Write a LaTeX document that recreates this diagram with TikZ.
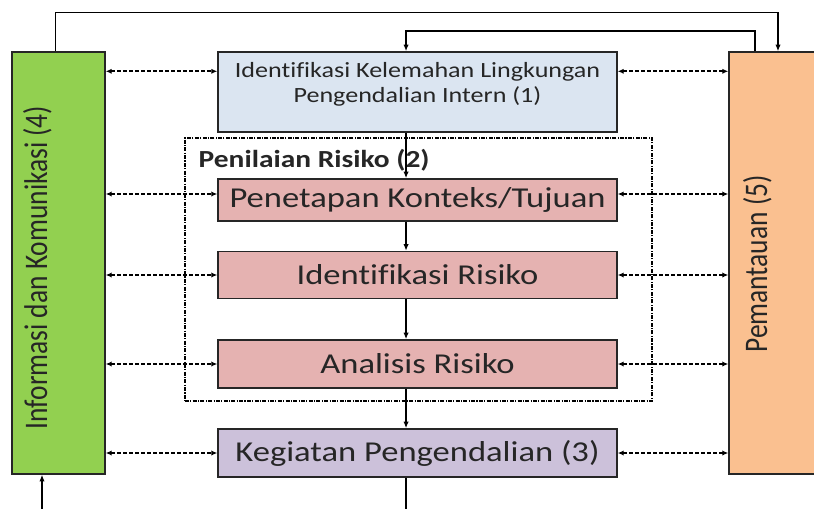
\documentclass[tikz,border=0pt]{standalone}
\usepackage{fontspec}
\setmainfont{Carlito}[FakeStretch=1.2, Ligatures=NoCommon]
\newfontfamily\sidefont{Carlito}[FakeStretch=0.833, Ligatures=NoCommon]
\usepackage{tikz}
\usetikzlibrary{arrows.meta}
\definecolor{infogreen}{RGB}{146,208,80}
\definecolor{pantauorange}{RGB}{250,192,144}
\definecolor{lingkblue}{RGB}{219,229,241}
\definecolor{risikopink}{RGB}{229,178,177}
\definecolor{kegiatanpurple}{RGB}{204,193,218}
\definecolor{textgray}{RGB}{38,38,38}

\begin{document}
\begin{tikzpicture}[x=0.75pt, y=-0.75pt,
	box/.style={draw=black!85, line width=1.1pt, text=textgray, inner sep=0pt},
	stepbox/.style={box, minimum width=299.25pt, font=\fontsize{21.6}{26}\selectfont},
	flow/.style={-{Latex[length=5pt,width=4pt]}, line width=0.9pt},
	link/.style={{Latex[length=4.5pt,width=4pt]}-{Latex[length=4.5pt,width=4pt]}, dash pattern=on 3pt off 1.5pt, line width=1.3pt}]
	\clip (0,0) rectangle (814,508);
	\fill[white] (0,0) rectangle (814,508);
	\node[box, fill=infogreen, minimum width=69.75pt, minimum height=316.5pt] (info) at (58.5,263) {};
	\node[box, fill=pantauorange, minimum width=75pt, minimum height=316.5pt] (pantau) at (779,263) {};
	\node[rotate=90, anchor=base, text=textgray, font=\sidefont\fontsize{24.7}{30}\selectfont] (infotext) at (47,267.5) {Informasi dan Komunikasi (4)};
	\node[rotate=90, anchor=base, text=textgray, font=\sidefont\fontsize{24.7}{30}\selectfont] (pantautext) at (767,264) {Pemantauan (5)};
	\node[draw, line width=0.8pt, dash pattern=on 3pt off 1pt on 0.8pt off 1pt, minimum width=350.25pt, minimum height=197.25pt, inner sep=0pt] (penilaian) at (418.5,269.5) {};
	\node[anchor=base west, text=textgray, font=\bfseries\fontsize{18.4}{22}\selectfont] (penilaiantitle) at (194,167) {Penilaian Risiko (2)};
	\node[box, fill=lingkblue, minimum width=299.25pt, minimum height=60pt] (lingk) at (417.5,92) {};
	\node[align=center, text=textgray, font=\fontsize{16.3}{18.75}\selectfont] (lingktext) at (417.5,84.5) {Identifikasi Kelemahan Lingkungan\\Pengendalian Intern (1)};
	\node[stepbox, fill=risikopink, minimum height=31.5pt] (pen) at (417.5,200) {Penetapan Konteks/Tujuan};
	\node[stepbox, fill=risikopink, minimum height=35.25pt] (ident) at (417.5,275) {Identifikasi Risiko};
	\node[stepbox, fill=risikopink, minimum height=36pt] (anal) at (417.5,364) {Analisis Risiko};
	\node[stepbox, fill=kegiatanpurple, minimum height=36pt] (keg) at (417.5,453) {Kegiatan Pengendalian (3)};
	\draw[flow] ([xshift=-8.6pt]lingk.south) -- ([xshift=-8.6pt]pen.north);
	\draw[flow] ([xshift=-8.6pt]pen.south) -- ([xshift=-8.6pt]ident.north);
	\draw[flow] ([xshift=-8.6pt]ident.south) -- ([xshift=-8.6pt]anal.north);
	\draw[flow] ([xshift=-8.6pt]anal.south) -- ([xshift=-8.6pt]keg.north);
	\draw[line width=0.9pt] ([xshift=-8.6pt]keg.south) -- ++(0,40);
	\coordinate (infoin) at (42,520);
	\draw[flow] (infoin) -- (infoin |- info.south);
	\draw[flow] ([xshift=-2pt]info.north) -- ++(0,-39) -| ([xshift=-0.75pt]pantau.north);
	\draw[flow, line width=1.6pt] ([xshift=-18pt]pantau.north) -- ++(0,-20) -| ([xshift=-8.6pt]lingk.north);
	\coordinate (lingkrow) at ([yshift=-15pt]lingk.north);
	\coordinate (penrow) at ([yshift=4.5pt]pen.center);
	\draw[link] (info.east |- lingkrow) -- (lingk.west |- lingkrow);
	\draw[link] (lingk.east |- lingkrow) -- (pantau.west |- lingkrow);
	\draw[link] (info.east |- penrow) -- (pen.west |- penrow);
	\draw[link] (pen.east |- penrow) -- (pantau.west |- penrow);
	\draw[link] (info.east |- ident.west) -- (ident.west);
	\draw[link] (ident.east) -- (pantau.west |- ident.east);
	\draw[link] (info.east |- anal.west) -- (anal.west);
	\draw[link] (anal.east) -- (pantau.west |- anal.east);
	\draw[link] (info.east |- keg.west) -- (keg.west);
	\draw[link] (keg.east) -- (pantau.west |- keg.east);
\end{tikzpicture}
\end{document}
